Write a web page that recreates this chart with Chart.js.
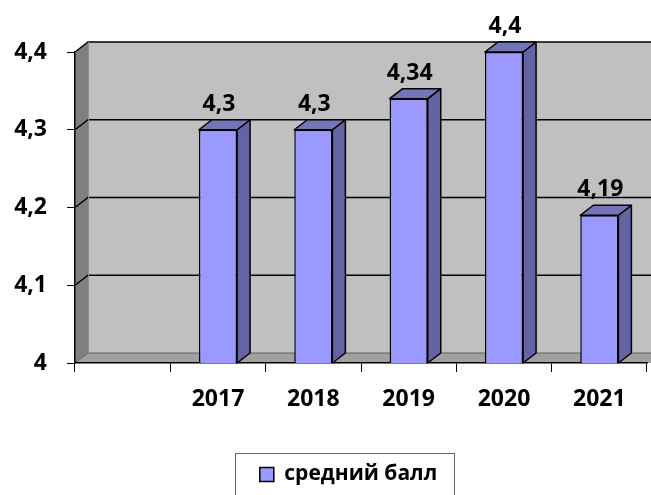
<!DOCTYPE html>
<html>
<head>
<meta charset="utf-8">
<script src="https://cdn.jsdelivr.net/npm/chart.js@4/dist/chart.umd.min.js"></script>
<style>
  html, body { margin: 0; padding: 0; background: #fff; }
</style>
</head>
<body>
<canvas id="c" width="651" height="495"></canvas>
<script>
const years = ["", "2017", "2018", "2019", "2020", "2021"];
const scores = [null, 4.3, 4.3, 4.34, 4.4, 4.19];
const yTickLabels = ["4", "4,1", "4,2", "4,3", "4,4"];
const seriesName = "средний балл";

// 3d depth offset
const DX = 13, DY = 10;
const FONT = "'Open Sans', 'Noto Sans', sans-serif";

const walls = {
  id: "walls",
  beforeDraw(chart) {
    const { ctx, chartArea: a, scales: { y } } = chart;
    const R = chart.width + 30;
    ctx.save();
    // back wall
    ctx.fillStyle = "#c0c0c0";
    ctx.fillRect(a.left + DX, a.top - DY, R, a.bottom - a.top);
    // left wall
    ctx.fillStyle = "#808080";
    ctx.beginPath();
    ctx.moveTo(a.left, a.top);
    ctx.lineTo(a.left + DX, a.top - DY);
    ctx.lineTo(a.left + DX, a.bottom - DY);
    ctx.lineTo(a.left, a.bottom);
    ctx.closePath();
    ctx.fill();
    // floor
    ctx.fillStyle = "#a0a0a0";
    ctx.beginPath();
    ctx.moveTo(a.left, a.bottom);
    ctx.lineTo(a.left + DX, a.bottom - DY);
    ctx.lineTo(R, a.bottom - DY);
    ctx.lineTo(R, a.bottom);
    ctx.closePath();
    ctx.fill();
    // gridlines on walls
    y.ticks.forEach((t, i) => {
      const py = y.getPixelForValue(t.value);
      ctx.strokeStyle = i === 0 ? "#606060" : "#000";
      ctx.lineWidth = i === 0 ? 1 : 1.5;
      ctx.beginPath();
      ctx.moveTo(a.left, py);
      ctx.lineTo(a.left + DX, py - DY);
      ctx.lineTo(R, py - DY);
      ctx.stroke();
    });
    ctx.strokeStyle = "#909090";
    ctx.lineWidth = 1;
    ctx.beginPath();
    ctx.moveTo(a.left + DX + 0.5, a.top - DY);
    ctx.lineTo(a.left + DX + 0.5, a.bottom - DY);
    ctx.stroke();
    ctx.restore();
  }
};

const bars3d = {
  id: "bars3d",
  afterDatasetsDraw(chart) {
    const ctx = chart.ctx;
    const base = chart.scales.y.getPixelForValue(chart.scales.y.min);
    ctx.save();
    chart.getDatasetMeta(0).data.forEach((bar, i) => {
      if (scores[i] == null) return;
      const { x, y, width } = bar.getProps(["x", "y", "width"], true);
      const l = x - width / 2, r = x + width / 2;
      ctx.fillStyle = "#6464a4";
      ctx.strokeStyle = "#000";
      ctx.lineWidth = 1.5;
      ctx.lineJoin = "round";
      ctx.beginPath();
      ctx.moveTo(r, y);
      ctx.lineTo(r + DX, y - DY);
      ctx.lineTo(r + DX, base - DY);
      ctx.lineTo(r, base);
      ctx.closePath();
      ctx.fill();
      ctx.stroke();
      ctx.fillStyle = "#7474b8";
      ctx.beginPath();
      ctx.moveTo(l, y);
      ctx.lineTo(l + DX, y - DY);
      ctx.lineTo(r + DX, y - DY);
      ctx.lineTo(r, y);
      ctx.closePath();
      ctx.fill();
      ctx.stroke();
      ctx.fillStyle = "#000";
      ctx.font = "bold 23px " + FONT;
      ctx.textAlign = "center";
      ctx.textBaseline = "alphabetic";
      ctx.fillText(String(scores[i]).replace(".", ","), x + 1, y - DY - 9);
    });
    ctx.restore();
  }
};

// legend sits a bit right of centre in the original, framed by a grey box
const legendFrame = {
  id: "legendFrame",
  afterLayout(chart) {
    const lg = chart.legend;
    if (!lg) return;
    lg.left += 25;
    lg.right += 25;
  },
  afterDraw(chart) {
    const lg = chart.legend;
    if (!lg || !lg.legendHitBoxes.length) return;
    const hb = lg.legendHitBoxes[0];
    const ctx = chart.ctx;
    ctx.save();
    ctx.strokeStyle = "#6a6a6a";
    ctx.lineWidth = 1;
    ctx.strokeRect(Math.round(hb.left - 25) + 0.5, Math.round(lg.top) + 0.5, Math.round(hb.width + 42), 80);
    ctx.restore();
  }
};

new Chart(document.getElementById("c"), {
  type: "bar",
  data: {
    labels: years,
    datasets: [{
      label: seriesName,
      data: scores,
      backgroundColor: "#9999ff",
      borderColor: "#000",
      borderWidth: 1.5,
      barPercentage: 0.4,
      categoryPercentage: 1
    }]
  },
  options: {
    responsive: false,
    animation: false,
    layout: { padding: { top: 52, right: 4, left: 0, bottom: 0 } },
    plugins: {
      tooltip: { enabled: false },
      legend: {
        position: "bottom",
        labels: {
          color: "#000",
          font: { family: FONT, size: 21, weight: "bold" },
          boxWidth: 14,
          boxHeight: 14,
          padding: 11
        }
      }
    },
    scales: {
      x: {
        grid: { drawOnChartArea: false, drawTicks: true, tickLength: 9, color: "#000", offset: true },
        border: { display: true, color: "#000", width: 1.5 },
        ticks: {
          color: "#000",
          font: { family: FONT, size: 23, weight: "bold" },
          padding: 14,
          maxRotation: 0,
          autoSkip: false
        },
        afterFit(s) { s.height = 90; }
      },
      y: {
        min: 4,
        max: 4.4,
        grid: { drawOnChartArea: false, tickLength: 8, color: "#000" },
        border: { display: true, color: "#000", width: 1.5 },
        ticks: {
          stepSize: 0.1,
          color: "#000",
          font: { family: FONT, size: 23, weight: "bold" },
          padding: 20,
          callback: (v, i) => yTickLabels[i]
        },
        afterFit(s) { s.width = 75; }
      }
    }
  },
  plugins: [walls, bars3d, legendFrame]
});
</script>
</body>
</html>
